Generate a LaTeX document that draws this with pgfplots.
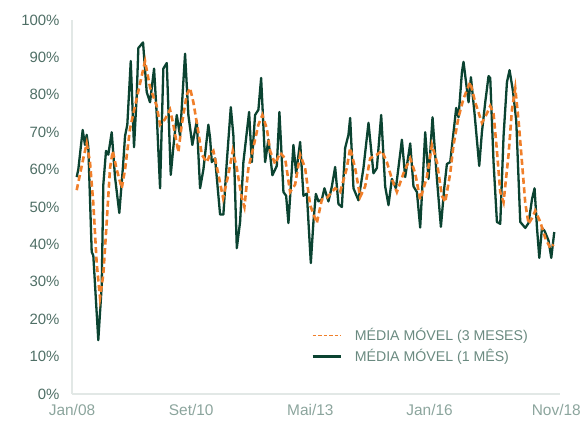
\documentclass[border=0pt]{standalone}
\usepackage{pgfplots}
\pgfplotsset{compat=1.18}
\usepackage{fontspec}
\setmainfont{Liberation Sans}
\definecolor{dkgreen}{HTML}{0B4331}
\definecolor{orng}{HTML}{F07F2A}
\definecolor{axgray}{HTML}{E2E8E6}
\definecolor{ylab}{HTML}{4F6F66}
\definecolor{xlab}{HTML}{8CA59D}
\definecolor{leglab}{HTML}{6A8A80}
\begin{document}
\begin{tikzpicture}
\path[use as bounding box] (-72bp,-27bp) rectangle (513bp,394bp);
\begin{axis}[
  at={(0,0)}, anchor=south west,
  width=488bp, height=374bp, scale only axis,
  xmin=0, xmax=131, ymin=0, ymax=100,
  axis x line*=bottom, axis y line*=left,
  axis line style={axgray, line width=1.2bp},
  xtick={0,32,64,96,130},
  xticklabels={Jan/08,Set/10,Mai/13,Jan/16,Nov/18},
  ytick={0,10,...,100},
  yticklabel={\pgfmathprintnumber{\tick}\%},
  /pgf/number format/assume math mode=true,
  major tick length=0pt,
  x tick label style={font=\fontsize{15.5}{17}\selectfont, text=xlab, yshift=-7bp},
  y tick label style={font=\fontsize{15}{17}\selectfont, text=ylab, xshift=-9bp},
  legend style={draw=none, fill=none, at={(0.484,0.186)}, anchor=north west,
    font=\fontsize{14.2}{16}\selectfont, text=leglab, row sep=3bp,
    /tikz/every even column/.append style={column sep=14bp}},
  legend cell align=left,
  legend image code/.code={\draw[#1] (0bp,0bp) -- (28bp,0bp);},
  clip=false,
]
\addlegendimage{orng, line width=1.5bp, dash pattern=on 3.5bp off 2bp}
\addlegendentry{\hspace{11bp}MÉDIA MÓVEL (3 MESES)}
\addlegendimage{dkgreen, line width=2.5bp}
\addlegendentry{\hspace{11bp}MÉDIA MÓVEL (1 MÊS)}
\addplot[dkgreen, line width=2.3bp, line join=round, forget plot] coordinates {
(1.26,58) (1.69,60) (2.87,70.6) (3.49,66.6) (3.95,69.3) (4.38,66) (5.29,38) (5.72,37)
(7.06,14.4) (7.98,29) (8.41,56) (9.13,65) (9.75,64) (10.66,70) (11.55,58) (12.70,48.4)
(13.70,61) (14.24,69) (14.85,72) (15.77,89) (16.65,66) (17.38,80) (17.81,92.5) (19.07,94)
(20.06,80.7) (20.95,78) (22.03,87) (22.75,74.6) (23.64,55) (24.52,87) (25.44,88.5) (26.51,58.6)
(27.21,66) (28.12,74.6) (29.01,69) (30.35,91) (31.24,74.6) (32.31,66.6) (33.49,73) (34.38,55)
(35.27,60) (36.61,72) (37.07,68.4) (37.52,62) (38.41,63) (39.75,48) (40.64,48) (41.55,62)
(42.63,76.7) (43.33,69) (44.24,39) (45.12,46) (46.01,62) (47.54,75.4) (48.27,62) (49.15,74.6)
(50.04,76) (50.77,84.5) (51.84,62) (52.73,68) (53.80,58.5) (54.98,61) (55.68,75.4) (56.76,54)
(57.48,53) (58.10,45.7) (59.44,66.6) (60.17,59) (61.24,67.4) (62.13,53) (63.04,53.6) (64.11,35)
(64.81,46) (65.46,53.5) (66.16,51.5) (67.07,52) (67.77,55) (68.84,51.5) (69.76,55.5) (70.64,60.7)
(71.53,50.8) (72.44,50) (73.33,65.8) (74.21,69.3) (74.67,73.8) (75.56,55) (76.90,51.8) (78.24,60.4)
(79.59,72.5) (80.93,59) (81.84,60.4) (83.00,74.6) (84.07,55.5) (84.96,50.5) (85.87,57.5) (86.95,55)
(88.56,68) (89.44,58) (90.79,67) (91.67,55.5) (92.59,54) (93.47,44.5) (94.82,70) (95.70,57.5)
(96.78,74) (97.96,57.5) (99.03,44.7) (99.92,55) (100.64,61.5) (101.53,62) (102.42,70) (103.14,76.5)
(103.76,74) (104.67,86) (105.10,88.8) (106.45,78) (107.09,84.7) (108.06,75) (109.32,61) (110.04,70)
(110.93,78) (111.82,85) (112.27,84.5) (113.16,62) (114.07,46) (114.96,45.5) (115.85,69) (116.76,83.4)
(117.46,86.6) (118.37,81) (119.26,73) (120.33,46) (121.68,44.4) (122.56,45.7) (123.47,52) (124.17,55)
(124.82,44.5) (125.44,36.4) (126.16,44.4) (126.86,43.6) (127.93,41) (128.66,36.4) (129.46,43.3)
};
\addplot[orng, line width=2.6bp, dash pattern=on 6bp off 3.5bp, forget plot] coordinates {
(1.26,54.5) (3.04,63) (3.95,67) (4.83,62) (5.72,51) (6.63,35) (7.52,25.7) (8.41,32)
(9.32,46) (10.21,60.4) (10.93,65) (12.01,60) (13.35,55) (14.24,60) (15.58,71) (16.92,77)
(18.26,83) (19.61,89) (20.95,82) (22.75,77) (23.64,72) (24.98,73.5) (26.32,76) (27.21,72)
(28.55,64.7) (29.46,72) (30.81,80) (31.69,81.8) (32.58,78) (33.92,70) (34.84,64) (36.18,62)
(37.07,64) (37.95,65) (39.30,58.7) (40.56,52.4) (41.98,58.7) (43.16,65) (44.24,60.4) (45.58,52.4)
(46.28,50) (47.35,60.4) (48.70,66) (50.04,72) (51.11,74.6) (52.30,71) (53.18,65) (54.53,61.5)
(55.87,64.5) (57.21,63) (58.55,54) (59.90,56) (61.24,64) (62.58,60.4) (63.93,50.5) (65.72,45.7)
(67.07,52) (68.41,52.4) (69.76,54) (70.64,55) (71.98,54) (73.78,60.4) (74.67,65.8) (76.01,60.4)
(77.36,52.7) (78.70,55.5) (80.04,63) (81.84,64) (83.19,65) (84.53,62) (85.87,57.5) (87.21,54)
(88.99,59) (90.79,63) (92.13,59) (93.47,52) (95.27,58) (96.61,66.6) (97.96,62) (99.30,53)
(100.19,51.3) (101.53,59) (102.42,66.6) (103.76,74) (105.10,79) (106.90,83.4) (108.24,78) (110.04,72.5)
(111.38,75) (112.27,77) (113.16,75) (114.07,65) (114.96,54) (115.85,51.3) (117.19,64) (118.10,76)
(118.99,81.8) (119.88,73) (120.79,62) (121.68,51) (122.56,45.5) (123.47,47) (124.36,49) (125.71,46)
(127.04,41.7) (128.39,39) (129.28,40)
};
\end{axis}
\end{tikzpicture}
\end{document}
